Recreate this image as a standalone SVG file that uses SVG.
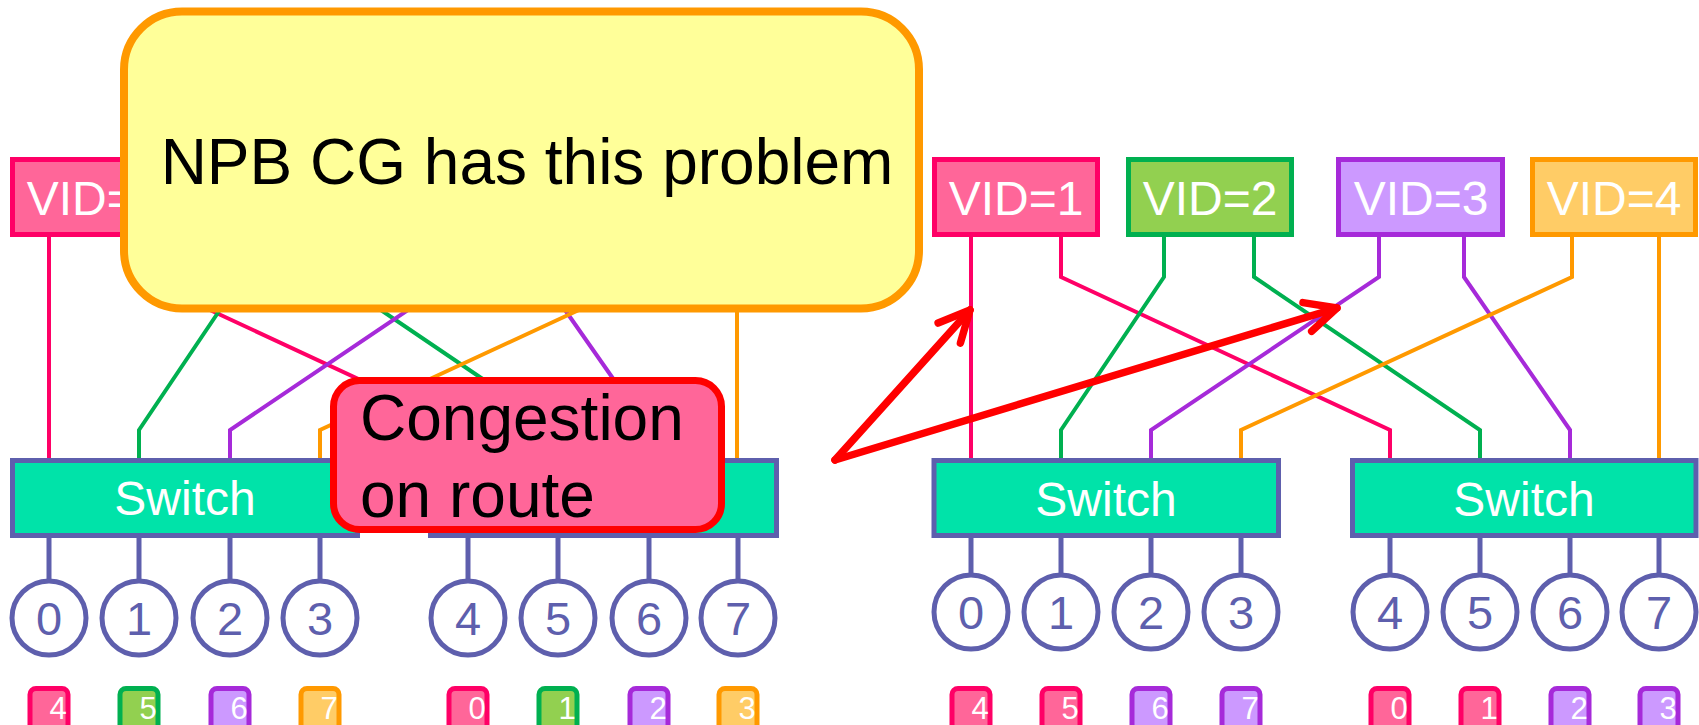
<svg xmlns="http://www.w3.org/2000/svg" width="1699" height="725" viewBox="0 0 1699 725">
  <style>
    text { font-family: "Liberation Sans", Arial, sans-serif; }
    .link { fill: none; stroke-width: 4; stroke-linejoin: miter; }
    .pink { stroke: #ff0066; }
    .green { stroke: #00b050; }
    .purple { stroke: #a62ad9; }
    .orange { stroke: #ff9900; }
    .vid { stroke-width: 5; }
    .vid-txt { font-size: 48px; fill: #ffffff; text-anchor: middle; }
    .sw { fill: #00e3a9; stroke: #5e5fad; stroke-width: 5; }
    .sw-txt { font-size: 48px; fill: #ffffff; text-anchor: middle; }
    .stub { stroke: #5e5fad; stroke-width: 5; }
    .port { fill: #ffffff; stroke: #5e5fad; stroke-width: 5; }
    .port-txt { font-size: 47px; fill: #5e5fad; text-anchor: middle; }
    .tag { stroke-width: 5; }
    .tag-txt { font-size: 31px; fill: #ffffff; text-anchor: middle; }
    .f-pink { fill: #ff6699; stroke: #ff0066; }
    .f-green { fill: #92d050; stroke: #00b050; }
    .f-purple { fill: #cc99ff; stroke: #a62ad9; }
    .f-orange { fill: #ffcc66; stroke: #ff9900; }
    .arrow { fill: none; stroke: #ff0000; stroke-width: 7.5; stroke-linecap: round; marker-end: url(#head); }
  </style>
  <defs>
    <marker id="head" markerUnits="userSpaceOnUse" orient="auto" refX="0" refY="0" markerWidth="80" markerHeight="80" viewBox="-40 -40 80 80" overflow="visible">
      <path d="M-31,-15 L0,0 L-31,15" fill="none" stroke="#ff0000" stroke-width="7.5" stroke-linecap="round" stroke-linejoin="round"/>
    </marker>
  </defs>

  <!-- links from VID groups down to switch ports -->
  <g id="connectors">
    <!-- left fabric -->
    <path class="link pink" d="M49,237 V458"/>
    <path class="link pink" d="M139,237 V277 L468,430 V458"/>
    <path class="link green" d="M242,237 V277 L139,430 V458"/>
    <path class="link green" d="M332,237 V277 L558,430 V458"/>
    <path class="link purple" d="M457,237 V277 L230,430 V458"/>
    <path class="link purple" d="M542,237 V277 L649,430 V458"/>
    <path class="link orange" d="M650,237 V277 L320,430 V458"/>
    <path class="link orange" d="M737,237 V458"/>
    <!-- right fabric -->
    <path class="link pink" d="M971,237 V458"/>
    <path class="link pink" d="M1061,237 V277 L1390,430 V458"/>
    <path class="link green" d="M1164,237 V277 L1061,430 V458"/>
    <path class="link green" d="M1254,237 V277 L1480,430 V458"/>
    <path class="link purple" d="M1379,237 V277 L1151,430 V458"/>
    <path class="link purple" d="M1464,237 V277 L1570,430 V458"/>
    <path class="link orange" d="M1572,237 V277 L1241,430 V458"/>
    <path class="link orange" d="M1659,237 V458"/>
  </g>

  <!-- VID groups -->
  <g id="vid-left-1">
    <rect class="vid f-pink" x="12.5" y="159.5" width="163" height="75"/>
    <text class="vid-txt" x="94" y="215">VID=1</text>
  </g>
  <g id="vid-right-1">
    <rect class="vid f-pink" x="934.5" y="159.5" width="163" height="75"/>
    <text class="vid-txt" x="1016" y="215">VID=1</text>
  </g>
  <g id="vid-right-2">
    <rect class="vid f-green" x="1128.5" y="159.5" width="163" height="75"/>
    <text class="vid-txt" x="1210" y="215">VID=2</text>
  </g>
  <g id="vid-right-3">
    <rect class="vid f-purple" x="1338.5" y="159.5" width="164" height="75"/>
    <text class="vid-txt" x="1421" y="215">VID=3</text>
  </g>
  <g id="vid-right-4">
    <rect class="vid f-orange" x="1532.5" y="159.5" width="163" height="75"/>
    <text class="vid-txt" x="1614" y="215">VID=4</text>
  </g>

  <!-- switches -->
  <g id="switch-left-a">
    <rect class="sw" x="12.5" y="460.5" width="345" height="75"/>
    <text class="sw-txt" x="185" y="515">Switch</text>
  </g>
  <g id="switch-left-b">
    <!-- label sits under the congestion note -->
    <rect class="sw" x="430.5" y="460.5" width="346" height="75"/>
  </g>
  <g id="switch-right-a">
    <rect class="sw" x="934" y="460.5" width="344.5" height="75"/>
    <text class="sw-txt" x="1106" y="516">Switch</text>
  </g>
  <g id="switch-right-b">
    <rect class="sw" x="1352.5" y="460.5" width="343.5" height="75"/>
    <text class="sw-txt" x="1524" y="516">Switch</text>
  </g>

  <!-- ports, left fabric -->
  <g id="port-left-0"><line class="stub" x1="49" y1="538" x2="49" y2="581"/><circle class="port" cx="49" cy="618" r="37"/><text class="port-txt" x="49" y="635">0</text></g>
  <g id="port-left-1"><line class="stub" x1="139" y1="538" x2="139" y2="581"/><circle class="port" cx="139" cy="618" r="37"/><text class="port-txt" x="139" y="635">1</text></g>
  <g id="port-left-2"><line class="stub" x1="230" y1="538" x2="230" y2="581"/><circle class="port" cx="230" cy="618" r="37"/><text class="port-txt" x="230" y="635">2</text></g>
  <g id="port-left-3"><line class="stub" x1="320" y1="538" x2="320" y2="581"/><circle class="port" cx="320" cy="618" r="37"/><text class="port-txt" x="320" y="635">3</text></g>
  <g id="port-left-4"><line class="stub" x1="468" y1="538" x2="468" y2="581"/><circle class="port" cx="468" cy="618" r="37"/><text class="port-txt" x="468" y="635">4</text></g>
  <g id="port-left-5"><line class="stub" x1="558" y1="538" x2="558" y2="581"/><circle class="port" cx="558" cy="618" r="37"/><text class="port-txt" x="558" y="635">5</text></g>
  <g id="port-left-6"><line class="stub" x1="649" y1="538" x2="649" y2="581"/><circle class="port" cx="649" cy="618" r="37"/><text class="port-txt" x="649" y="635">6</text></g>
  <g id="port-left-7"><line class="stub" x1="738" y1="538" x2="738" y2="581"/><circle class="port" cx="738" cy="618" r="37"/><text class="port-txt" x="738" y="635">7</text></g>

  <!-- ports, right fabric -->
  <g id="port-right-0"><line class="stub" x1="971" y1="538" x2="971" y2="575"/><circle class="port" cx="971" cy="612" r="37"/><text class="port-txt" x="971" y="629">0</text></g>
  <g id="port-right-1"><line class="stub" x1="1061" y1="538" x2="1061" y2="575"/><circle class="port" cx="1061" cy="612" r="37"/><text class="port-txt" x="1061" y="629">1</text></g>
  <g id="port-right-2"><line class="stub" x1="1151" y1="538" x2="1151" y2="575"/><circle class="port" cx="1151" cy="612" r="37"/><text class="port-txt" x="1151" y="629">2</text></g>
  <g id="port-right-3"><line class="stub" x1="1241" y1="538" x2="1241" y2="575"/><circle class="port" cx="1241" cy="612" r="37"/><text class="port-txt" x="1241" y="629">3</text></g>
  <g id="port-right-4"><line class="stub" x1="1390" y1="538" x2="1390" y2="575"/><circle class="port" cx="1390" cy="612" r="37"/><text class="port-txt" x="1390" y="629">4</text></g>
  <g id="port-right-5"><line class="stub" x1="1480" y1="538" x2="1480" y2="575"/><circle class="port" cx="1480" cy="612" r="37"/><text class="port-txt" x="1480" y="629">5</text></g>
  <g id="port-right-6"><line class="stub" x1="1570" y1="538" x2="1570" y2="575"/><circle class="port" cx="1570" cy="612" r="37"/><text class="port-txt" x="1570" y="629">6</text></g>
  <g id="port-right-7"><line class="stub" x1="1659" y1="538" x2="1659" y2="575"/><circle class="port" cx="1659" cy="612" r="37"/><text class="port-txt" x="1659" y="629">7</text></g>

  <!-- destination tags under each port -->
  <g id="tags-left">
    <rect class="tag f-pink" x="30" y="688.5" width="38" height="45" rx="6"/><text class="tag-txt" x="58" y="719">4</text>
    <rect class="tag f-green" x="120" y="688.5" width="38" height="45" rx="6"/><text class="tag-txt" x="148" y="719">5</text>
    <rect class="tag f-purple" x="211" y="688.5" width="38" height="45" rx="6"/><text class="tag-txt" x="239" y="719">6</text>
    <rect class="tag f-orange" x="301" y="688.5" width="38" height="45" rx="6"/><text class="tag-txt" x="329" y="719">7</text>
    <rect class="tag f-pink" x="449" y="688.5" width="38" height="45" rx="6"/><text class="tag-txt" x="477" y="719">0</text>
    <rect class="tag f-green" x="539" y="688.5" width="38" height="45" rx="6"/><text class="tag-txt" x="567" y="719">1</text>
    <rect class="tag f-purple" x="630" y="688.5" width="38" height="45" rx="6"/><text class="tag-txt" x="658" y="719">2</text>
    <rect class="tag f-orange" x="719" y="688.5" width="38" height="45" rx="6"/><text class="tag-txt" x="747" y="719">3</text>
  </g>
  <g id="tags-right">
    <rect class="tag f-pink" x="952" y="688.5" width="38" height="45" rx="6"/><text class="tag-txt" x="980" y="719">4</text>
    <rect class="tag f-pink" x="1042" y="688.5" width="38" height="45" rx="6"/><text class="tag-txt" x="1070" y="719">5</text>
    <rect class="tag f-purple" x="1132" y="688.5" width="38" height="45" rx="6"/><text class="tag-txt" x="1160" y="719">6</text>
    <rect class="tag f-purple" x="1222" y="688.5" width="38" height="45" rx="6"/><text class="tag-txt" x="1250" y="719">7</text>
    <rect class="tag f-pink" x="1371" y="688.5" width="38" height="45" rx="6"/><text class="tag-txt" x="1399" y="719">0</text>
    <rect class="tag f-pink" x="1461" y="688.5" width="38" height="45" rx="6"/><text class="tag-txt" x="1489" y="719">1</text>
    <rect class="tag f-purple" x="1551" y="688.5" width="38" height="45" rx="6"/><text class="tag-txt" x="1579" y="719">2</text>
    <rect class="tag f-purple" x="1640" y="688.5" width="38" height="45" rx="6"/><text class="tag-txt" x="1668" y="719">3</text>
  </g>

  <!-- callouts -->
  <g id="note-npb">
    <rect x="124" y="11.5" width="795" height="297" rx="58" fill="#ffff99" stroke="#ff9900" stroke-width="8"/>
    <text x="527" y="184" font-size="64" fill="#000000" text-anchor="middle">NPB CG has this problem</text>
  </g>
  <g id="note-congestion">
    <rect x="333.5" y="380.5" width="388" height="149" rx="26" fill="#ff6699" stroke="#ff0000" stroke-width="7"/>
    <text x="360" y="440" font-size="64" fill="#000000">Congestion</text>
    <text x="360" y="517" font-size="64" fill="#000000">on route</text>
  </g>

  <!-- pointers to the congested links -->
  <g id="pointers">
    <path class="arrow" d="M835,460 L970,310"/>
    <path class="arrow" d="M835,460 L1337,308"/>
  </g>
</svg>
